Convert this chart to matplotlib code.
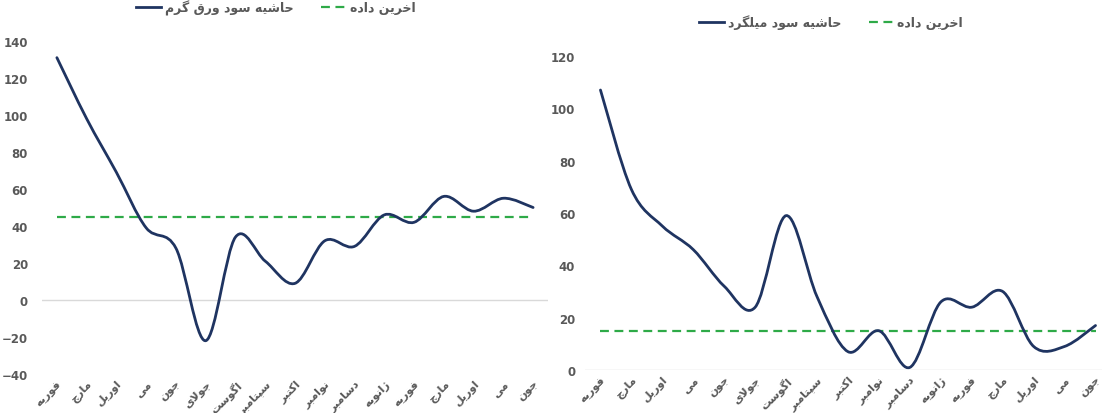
import numpy as np
import matplotlib
matplotlib.use('Agg')
import matplotlib.pyplot as plt
from matplotlib.path import Path
from matplotlib.patches import PathPatch
from matplotlib.lines import Line2D

months = ['فوریه', 'مارچ', 'اوریل', 'می', 'جون', 'جولای', 'اگوست', 'سپتامبر',
          'اکتبر', 'نوامبر', 'دسامبر', 'ژانویه', 'فوریه', 'مارچ', 'اوریل', 'می', 'جون']

# left chart: hot rolled sheet margin
sheet_margin = [131, 98, 69, 39, 28, -22, 34, 21, 9, 32, 29, 46, 42, 56, 48, 55, 50]
sheet_last = 45
sheet_label = 'حاشیه سود ورق گرم'

# right chart: rebar margin
rebar_margin = [107, 69, 55, 46, 32, 24, 59, 28, 7, 15, 1, 26, 24, 30, 9, 9, 17]
rebar_last = 15
rebar_label = 'حاشیه سود میلگرد'

last_label = 'اخرین داده'

NAVY = '#1f3461'
GREEN = '#2eaa48'
GRAY = '#595959'

# --- tiny arabic shaper (matplotlib does no shaping / RTL) ---
# iso, fin, ini, med
FORMS = {
    '\u0627': ('\uFE8D', '\uFE8E', None, None),
    '\u0628': ('\uFE8F', '\uFE90', '\uFE91', '\uFE92'),
    '\u062A': ('\uFE95', '\uFE96', '\uFE97', '\uFE98'),
    '\u062C': ('\uFE9D', '\uFE9E', '\uFE9F', '\uFEA0'),
    '\u062D': ('\uFEA1', '\uFEA2', '\uFEA3', '\uFEA4'),
    '\u062E': ('\uFEA5', '\uFEA6', '\uFEA7', '\uFEA8'),
    '\u062F': ('\uFEA9', '\uFEAA', None, None),
    '\u0631': ('\uFEAD', '\uFEAE', None, None),
    '\u0632': ('\uFEAF', '\uFEB0', None, None),
    '\u0633': ('\uFEB1', '\uFEB2', '\uFEB3', '\uFEB4'),
    '\u0634': ('\uFEB5', '\uFEB6', '\uFEB7', '\uFEB8'),
    '\u0641': ('\uFED1', '\uFED2', '\uFED3', '\uFED4'),
    '\u0642': ('\uFED5', '\uFED6', '\uFED7', '\uFED8'),
    '\u0644': ('\uFEDD', '\uFEDE', '\uFEDF', '\uFEE0'),
    '\u0645': ('\uFEE1', '\uFEE2', '\uFEE3', '\uFEE4'),
    '\u0646': ('\uFEE5', '\uFEE6', '\uFEE7', '\uFEE8'),
    '\u0647': ('\uFEE9', '\uFEEA', '\uFEEB', '\uFEEC'),
    '\u0648': ('\uFEED', '\uFEEE', None, None),
    '\u067E': ('\uFB56', '\uFB57', '\uFB58', '\uFB59'),
    '\u0686': ('\uFB7A', '\uFB7B', '\uFB7C', '\uFB7D'),
    '\u0698': ('\uFB8A', '\uFB8B', None, None),
    '\u06A9': ('\uFB8E', '\uFB8F', '\uFB90', '\uFB91'),
    '\u06AF': ('\uFB92', '\uFB93', '\uFB94', '\uFB95'),
    '\u06CC': ('\uFBFC', '\uFBFD', '\uFBFE', '\uFBFF'),
}


def shape(s):
    s = s.replace('\u064A', '\u06CC').replace('\u0643', '\u06A9')
    out = []
    i = 0
    while i < len(s):
        c = s[i]
        if c not in FORMS:
            out.append(c)
            i += 1
            continue
        prev = s[i - 1] if i > 0 else ''
        join_prev = prev in FORMS and FORMS[prev][2] is not None
        if c == '\u0644' and i + 1 < len(s) and s[i + 1] == '\u0627':
            out.append('\uFEFC' if join_prev else '\uFEFB')
            i += 2
            continue
        nxt = s[i + 1] if i + 1 < len(s) else ''
        join_next = nxt in FORMS and FORMS[c][2] is not None
        iso, fin, ini, med = FORMS[c]
        if join_prev and join_next:
            out.append(med)
        elif join_prev:
            out.append(fin)
        elif join_next:
            out.append(ini)
        else:
            out.append(iso)
        i += 1
    return ''.join(out[::-1])


def smooth_path(ys):
    # excel-like smoothed line: cubic bezier through every point
    x = np.arange(len(ys), dtype=float)
    y = np.array(ys, dtype=float)
    verts = [(x[0], y[0])]
    codes = [Path.MOVETO]
    n = len(ys)
    for i in range(n - 1):
        p0 = i - 1 if i > 0 else i
        p3 = i + 2 if i + 2 < n else i + 1
        c1 = (x[i] + (x[i + 1] - x[p0]) / 6, y[i] + (y[i + 1] - y[p0]) / 6)
        c2 = (x[i + 1] - (x[p3] - x[i]) / 6, y[i + 1] - (y[p3] - y[i]) / 6)
        verts += [c1, c2, (x[i + 1], y[i + 1])]
        codes += [Path.CURVE4] * 3
    return Path(verts, codes)


def draw(ax, vals, last, label, ylim, step, ypad, leg_xy):
    ax.add_patch(PathPatch(smooth_path(vals), fill=False, edgecolor=NAVY,
                           lw=2.0, capstyle='round', joinstyle='round', zorder=3))
    ax.plot([0, len(vals) - 1], [last, last], color=GREEN, lw=1.6,
            dashes=(4, 2.5), zorder=2)
    ax.axhline(0, color='#d9d9d9', lw=1.0, zorder=1)
    ax.set_xlim(-0.5, len(vals) - 0.5)
    ax.set_ylim(*ylim)
    ax.set_yticks(np.arange(ylim[0], ylim[1] + 1, step))
    ax.set_xticks(range(len(vals)))
    ax.set_xticklabels([shape(m) for m in months], rotation=45, ha='right',
                       va='top', rotation_mode='anchor', fontsize=8,
                       color=GRAY, fontweight='bold')
    ax.tick_params(axis='y', labelsize=8.5, labelcolor=GRAY, pad=ypad)
    ax.tick_params(axis='x', pad=3)
    for t in ax.get_yticklabels():
        t.set_fontweight('bold')
    ax.tick_params(length=0)
    for sp in ax.spines.values():
        sp.set_visible(False)
    handles = [Line2D([], [], color=NAVY, lw=2.0),
               Line2D([], [], color=GREEN, lw=1.6, dashes=(4, 2.5))]
    leg = ax.legend(handles, [shape(label), shape(last_label)], ncol=2,
                    loc='center', bbox_to_anchor=leg_xy,
                    bbox_transform=ax.figure.transFigure, frameon=False,
                    fontsize=9, handlelength=2.0, columnspacing=2.2,
                    handletextpad=0.3)
    for t in leg.get_texts():
        t.set_color(GRAY)
        t.set_fontweight('bold')


fig = plt.figure(figsize=(11.02, 4.14), dpi=100)
W, H = 1102, 414

ax1 = fig.add_axes([42 / W, 1 - 375 / H, (548 - 42) / W, (375 - 42) / H])
draw(ax1, sheet_margin, sheet_last, sheet_label, (-40, 140), 20, 10,
     (276 / W, 1 - 8 / H))

ax2 = fig.add_axes([585 / W, 1 - 371 / H, (1111 - 585) / W, (371 - 57) / H])
draw(ax2, rebar_margin, rebar_last, rebar_label, (0, 120), 20, 7,
     (831 / W, 1 - 23 / H))

fig.savefig('out.png', dpi=100)
